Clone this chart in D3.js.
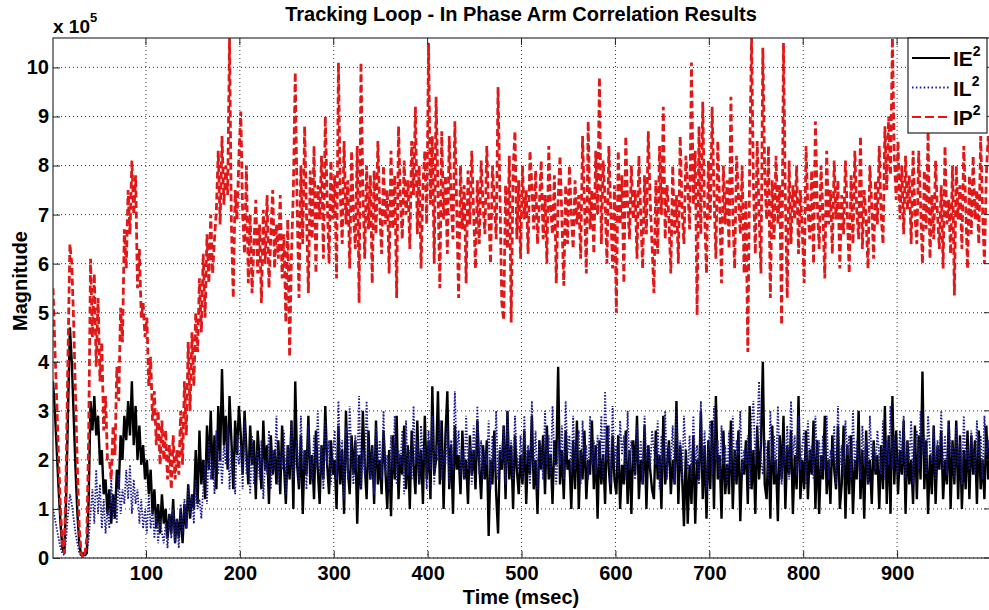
<!DOCTYPE html>
<html>
<head>
<meta charset="utf-8">
<script src="https://cdn.jsdelivr.net/npm/d3@7"></script>
<style>
  body { margin: 0; background: #fff; }
  svg { display: block; }
  text { font-family: "Liberation Sans", Arial, Helvetica, sans-serif; font-weight: bold; fill: #000; }
</style>
</head>
<body>
<div id="chart"></div>
<script>
// samples every 2 msec, starting at 1 msec (values are x 10^5)
var firstTime = 1;
var sampleStep = 2;

var ieSquared = [
  3.6, 3.0, 2.2, 1.4, 0.7, 0.2, 0.1, 1.2, 3.0, 4.7,
  4.0, 2.9, 1.8, 0.9, 0.3, 0.05, 0.1, 0.05, 0.1, 1.2,
  3.2, 2.6, 3.3, 2.5, 2.9, 1.9, 2.2, 1.3, 1.6, 0.9,
  1.4, 0.7, 1.3, 0.8, 1.8, 1.4, 2.5, 2.0, 2.9, 2.4,
  3.2, 2.5, 3.6, 2.3, 3.1, 2.0, 2.7, 1.9, 2.3, 1.6,
  2.0, 1.3, 1.8, 0.9, 1.4, 0.6, 1.1, 0.5, 1.3, 0.7,
  1.0, 0.4, 0.9, 0.5, 1.2, 0.3, 0.8, 0.4, 1.0, 0.3,
  1.1, 0.6, 1.5, 0.8, 1.3, 1.0, 2.2, 1.1, 2.6, 1.5,
  2.0, 1.2, 2.7, 1.8, 3.0, 1.6, 2.5, 1.4, 3.1, 2.0,
  3.85, 2.3, 2.9, 1.8, 3.3, 2.4, 1.4, 2.8, 2.1, 3.1,
  2.5, 1.7, 3.0, 2.2, 1.5, 2.7, 1.9, 2.4, 1.2, 2.6,
  2.0, 1.4, 2.8, 1.8, 2.3, 1.1, 2.5, 1.7, 2.2, 1.5,
  2.4, 1.3, 2.7, 1.9, 1.1, 2.3, 1.6, 2.8, 1.0, 3.6,
  1.9, 1.4, 2.5, 0.9, 2.2, 1.7, 2.9, 1.5, 2.1, 1.2,
  2.6, 1.8, 1.1, 2.3, 1.6, 3.1, 1.9, 1.3, 2.4, 1.7,
  2.0, 1.0, 2.7, 1.5, 2.2, 0.9, 3.0, 1.8, 1.3, 2.5,
  1.7, 2.4, 0.7, 2.1, 1.4, 3.0, 1.9, 1.2, 2.6, 1.6,
  2.3, 1.1, 2.8, 1.5, 2.0, 1.3, 2.6, 1.8, 1.0, 2.2,
  0.85, 2.5, 1.6, 2.9, 1.2, 2.1, 1.7, 2.7, 1.4, 2.3,
  1.0, 2.6, 1.9, 1.3, 2.8, 1.5, 2.2, 1.1, 2.9, 1.6,
  2.4, 1.2, 3.5, 1.7, 2.0, 3.4, 1.5, 2.8, 1.0, 2.5,
  3.4, 1.4, 2.3, 0.9, 2.7, 1.8, 2.1, 1.3, 2.6, 1.6,
  2.0, 1.1, 2.5, 1.7, 2.2, 1.4, 2.8, 1.9, 1.2, 2.3,
  1.6, 2.4, 0.45, 2.0, 1.5, 2.6, 1.3, 0.5, 2.2, 1.8,
  2.7, 1.2, 3.0, 1.6, 2.3, 1.0, 2.5, 1.8, 1.3, 2.1,
  1.5, 2.6, 1.1, 2.2, 1.7, 2.9, 1.4, 2.0, 0.9, 2.4,
  1.8, 2.5, 1.3, 2.7, 1.6, 2.1, 1.1, 2.4, 1.9, 3.9,
  1.5, 2.2, 1.2, 2.6, 1.8, 2.0, 1.0, 2.4, 1.4, 2.8,
  1.0, 2.2, 1.6, 2.6, 1.2, 2.0, 1.7, 2.8, 1.4, 2.3,
  0.8, 2.4, 1.5, 2.1, 1.1, 2.7, 1.8, 1.3, 2.5, 1.6,
  1.3, 2.5, 1.0, 1.9, 1.5, 2.6, 1.1, 2.2, 0.9, 2.4,
  1.7, 2.9, 1.2, 2.0, 1.5, 2.7, 1.0, 2.3, 1.8, 1.4,
  1.2, 2.6, 1.6, 2.1, 1.0, 2.9, 1.5, 1.9, 2.4, 1.3,
  2.0, 1.5, 3.2, 1.1, 2.3, 1.7, 0.65, 2.2, 0.7, 1.9,
  1.1, 2.5, 0.7, 2.0, 1.6, 3.0, 1.2, 2.3, 0.8, 2.4,
  1.4, 2.8, 1.0, 3.3, 1.6, 2.1, 0.8, 2.6, 1.3, 1.9,
  1.3, 2.8, 1.0, 2.2, 1.5, 2.6, 0.75, 2.0, 1.7, 2.4,
  1.1, 3.1, 1.4, 2.2, 0.9, 2.7, 1.6, 2.3, 4.0, 1.5,
  1.2, 2.4, 0.8, 2.7, 1.5, 2.0, 0.75, 2.5, 1.6, 2.9,
  1.0, 2.3, 1.7, 2.6, 0.9, 2.1, 1.4, 3.3, 1.2, 2.0,
  1.4, 2.6, 1.2, 2.2, 1.7, 2.8, 1.0, 2.4, 0.9, 2.1,
  1.6, 2.9, 1.3, 2.0, 1.1, 2.5, 1.8, 1.4, 2.7, 1.0,
  1.5, 2.7, 0.8, 2.3, 1.3, 2.5, 0.9, 2.0, 1.6, 3.0,
  1.2, 2.2, 0.8, 2.6, 1.5, 2.0, 1.1, 2.4, 1.7, 2.1,
  1.0, 2.3, 1.4, 3.1, 1.1, 2.5, 0.9, 3.3, 1.5, 2.6,
  1.3, 2.2, 1.7, 2.8, 0.9, 2.4, 1.5, 2.0, 1.1, 2.7,
  1.2, 2.5, 1.6, 3.8, 1.4, 2.4, 0.9, 2.1, 1.3, 2.7,
  1.1, 2.3, 1.8, 2.6, 1.2, 2.0, 1.5, 2.8, 1.0, 2.4,
  1.5, 2.8, 1.2, 2.5, 1.0, 2.2, 1.4, 2.6, 1.2, 2.5,
  1.7, 2.4, 1.1, 2.6, 1.4, 2.0, 1.2, 2.7, 1.6, 2.5
];

var ilSquared = [
  1.0, 0.8, 0.6, 0.4, 0.2, 0.1, 0.05, 0.4, 0.9, 1.3,
  1.1, 0.8, 0.5, 0.3, 0.1, 0.05, 0.1, 0.05, 0.1, 0.4,
  0.9, 1.4, 0.7, 1.8, 0.9, 1.5, 0.6, 1.2, 0.5, 1.0,
  0.6, 1.6, 0.8, 1.3, 0.7, 1.7, 0.9, 1.4, 1.1, 1.8,
  1.2, 1.9, 0.9, 1.6, 1.1, 1.4, 0.7, 1.2, 0.6, 1.0,
  0.5, 1.3, 0.6, 1.0, 0.4, 0.9, 0.3, 0.8, 0.5, 0.3,
  0.7, 0.2, 0.9, 0.4, 1.0, 0.3, 0.8, 0.2, 1.1, 0.5,
  1.2, 0.6, 1.5, 0.9, 1.3, 0.7, 1.6, 1.0, 1.2, 0.8,
  1.4, 2.0, 1.1, 2.4, 1.6, 2.0, 1.3, 2.6, 1.7, 2.2,
  1.5, 2.3, 1.9, 2.7, 1.4, 2.2, 1.8, 1.3, 2.5, 1.9,
  2.3, 1.4, 2.8, 1.7, 2.1, 1.3, 2.5, 1.5, 1.9, 2.2,
  1.6, 2.4, 1.2, 2.0, 1.7, 2.6, 1.4, 2.2, 1.8, 2.9,
  1.5, 2.1, 1.8, 2.6, 1.3, 2.3, 1.9, 2.8, 1.6, 2.0,
  2.4, 1.5, 2.9, 1.8, 2.2, 1.4, 2.7, 2.0, 1.6, 2.5,
  1.8, 3.0, 1.7, 2.3, 1.4, 2.8, 1.9, 2.4, 1.5, 2.1,
  2.6, 1.6, 3.2, 1.9, 2.4, 1.2, 2.7, 1.6, 3.1, 2.0,
  1.5, 2.5, 1.8, 3.3, 1.4, 2.2, 1.7, 3.2, 2.0, 1.6,
  2.3, 1.3, 2.7, 1.9, 2.4, 1.6, 3.0, 1.7, 2.1, 1.4,
  2.5, 1.8, 2.9, 1.5, 2.2, 1.9, 2.6, 1.3, 2.8, 1.7,
  2.2, 1.6, 3.1, 1.9, 2.4, 1.5, 2.7, 2.0, 2.3, 1.4,
  2.6, 1.8, 2.9, 1.5, 2.3, 2.0, 2.8, 1.6, 2.2, 1.9,
  2.7, 1.5, 2.4, 1.8, 3.4, 2.1, 2.6, 1.7, 2.2, 1.6,
  2.9, 1.8, 2.3, 1.5, 2.7, 2.0, 3.1, 1.7, 2.4, 1.6,
  2.2, 1.9, 2.8, 1.4, 2.5, 1.8, 3.0, 1.6, 2.3, 2.0,
  2.7, 1.5, 3.0, 1.9, 2.4, 1.6, 2.9, 2.1, 1.8, 2.5,
  1.6, 2.9, 1.9, 2.3, 1.5, 3.2, 1.8, 2.6, 1.4, 2.4,
  2.2, 1.6, 3.0, 1.9, 2.5, 1.7, 3.1, 2.0, 1.5, 2.4,
  1.9, 2.7, 1.6, 3.2, 2.1, 2.5, 1.7, 2.9, 1.8, 2.3,
  2.6, 1.5, 2.8, 2.0, 2.3, 1.6, 2.9, 1.9, 2.4, 1.7,
  2.5, 1.8, 2.9, 1.6, 3.4, 2.0, 2.7, 1.5, 3.1, 1.9,
  2.3, 1.7, 2.8, 2.1, 2.5, 1.6, 3.0, 1.8, 2.4, 2.0,
  1.6, 2.7, 1.9, 2.4, 1.5, 2.9, 2.0, 2.3, 1.8, 2.6,
  2.2, 1.9, 2.8, 1.4, 2.5, 1.8, 3.0, 1.6, 2.3, 2.0,
  2.7, 1.5, 3.0, 1.9, 2.4, 1.6, 2.9, 2.1, 1.8, 2.5,
  1.6, 2.9, 1.9, 2.3, 1.5, 3.2, 1.8, 2.6, 1.4, 2.2,
  2.8, 1.7, 3.1, 2.0, 2.4, 1.6, 2.7, 1.9, 2.3, 1.5,
  2.6, 1.8, 2.9, 1.6, 2.4, 2.1, 3.0, 1.7, 2.2, 1.9,
  2.5, 1.4, 2.8, 3.2, 1.9, 2.6, 3.6, 2.0, 1.7, 2.4,
  2.2, 1.6, 3.0, 1.9, 2.5, 1.7, 3.1, 2.0, 1.5, 2.4,
  1.9, 2.7, 1.6, 3.2, 2.1, 2.5, 1.7, 2.9, 1.8, 2.3,
  2.6, 1.5, 2.8, 2.0, 2.3, 1.6, 2.9, 1.9, 2.4, 1.7,
  2.5, 1.8, 2.9, 1.6, 2.2, 2.0, 2.7, 1.5, 3.1, 1.9,
  2.3, 1.7, 2.8, 2.1, 2.5, 1.6, 3.0, 1.8, 2.4, 2.0,
  1.6, 2.7, 1.9, 2.4, 1.5, 2.9, 2.0, 2.3, 1.8, 2.6,
  2.1, 1.7, 2.8, 1.6, 2.4, 1.9, 3.1, 1.8, 2.5, 2.0,
  1.7, 2.6, 1.9, 2.9, 1.6, 2.4, 2.0, 2.8, 1.5, 2.3,
  2.6, 1.8, 3.0, 2.1, 2.5, 1.7, 2.9, 2.2, 1.9, 2.7,
  1.6, 2.4, 2.0, 3.0, 1.8, 2.5, 1.7, 2.8, 2.1, 2.3,
  1.6, 2.7, 1.9, 2.4, 1.5, 2.9, 2.0, 2.3, 1.8, 2.6,
  2.2, 1.7, 2.8, 2.0, 2.5, 1.6, 2.9, 2.1, 2.4, 1.9
];

var ipSquared = [
  5.5, 4.3, 3.2, 2.0, 1.0, 0.3, 0.1, 1.8, 4.2, 6.4,
  6.0, 4.8, 3.3, 1.8, 0.6, 0.1, 0.0, 0.1, 0.4, 2.5,
  6.1, 4.5, 5.8, 3.9, 5.3, 3.6, 4.4, 2.6, 3.3, 2.0,
  2.0, 1.6, 2.7, 2.1, 3.9, 3.2, 5.1, 4.4, 6.7, 5.9,
  7.5, 6.6, 8.1, 7.0, 7.8, 5.5, 6.3, 4.9, 5.2, 4.5,
  4.9, 3.5, 4.1, 2.8, 3.4, 2.3, 3.0, 1.9, 2.8, 2.0,
  2.6, 1.6, 2.3, 1.4, 2.5, 1.6, 2.2, 1.7, 3.0, 1.9,
  3.6, 2.5, 4.4, 3.0, 4.6, 3.5, 5.0, 4.2, 5.7, 4.6,
  6.2, 4.9, 6.6, 5.6, 7.0, 5.8, 6.5, 7.1, 8.3, 6.8,
  8.6, 7.2, 8.0, 7.4, 10.6, 6.8, 5.3, 7.5, 6.9, 8.2,
  9.1, 7.0, 6.2, 8.0, 5.6, 7.0, 5.4, 6.4, 7.3, 5.8,
  6.8, 5.2, 7.1, 6.0, 7.4, 5.5, 6.6, 7.5, 5.9, 6.8,
  6.1, 7.4, 5.7, 6.6, 4.8, 6.9, 4.1, 6.2, 7.5, 9.9,
  7.2, 5.3, 8.0, 6.4, 8.8, 7.0, 5.4, 7.9, 6.5, 8.4,
  5.8, 7.6, 6.9, 8.2, 6.1, 9.0, 7.3, 6.0, 8.1, 6.9,
  7.8, 5.7, 10.1, 7.4, 6.4, 8.5, 6.8, 7.7, 5.9, 8.3,
  7.0, 6.3, 8.4, 5.2, 10.1, 7.5, 6.1, 8.0, 6.7, 7.8,
  5.6, 7.9, 6.6, 8.5, 7.1, 6.2, 8.0, 6.8, 7.5, 5.8,
  8.3, 6.7, 7.8, 5.3, 8.8, 7.3, 6.5, 8.1, 7.0, 7.7,
  6.3, 8.5, 7.4, 9.2, 6.6, 8.0, 5.9, 7.6, 8.3, 6.8,
  10.5, 7.2, 8.6, 6.0, 9.4, 7.5, 5.5, 8.7, 6.9, 7.8,
  6.2, 8.6, 7.3, 6.5, 8.9, 7.1, 5.3, 8.0, 6.7, 7.6,
  5.6, 7.9, 6.8, 8.3, 7.0, 5.9, 7.7, 6.4, 8.1, 7.2,
  6.6, 8.4, 7.1, 6.0, 8.0, 7.3, 6.5, 9.6, 7.4, 5.2,
  4.85, 7.6, 6.3, 8.2, 4.8, 7.9, 8.7, 6.5, 7.7, 6.1,
  8.0, 6.9, 7.5, 6.2, 8.3, 7.6, 6.7, 7.9, 6.4, 7.2,
  8.1, 6.5, 7.4, 6.0, 8.4, 7.1, 6.6, 7.8, 5.6, 7.3,
  8.2, 6.9, 5.55, 7.6, 6.4, 8.0, 7.0, 6.3, 7.7, 6.8,
  7.4, 6.1, 8.6, 7.2, 5.8, 8.9, 6.7, 7.5, 6.2, 8.3,
  7.0, 9.8, 6.4, 8.1, 7.3, 6.0, 8.4, 7.1, 5.9, 7.6,
  5.0, 8.3, 6.8, 7.8, 5.6, 8.6, 7.2, 6.5, 8.0, 6.9,
  7.5, 6.1, 8.2, 7.0, 5.9, 7.8, 6.6, 8.7, 7.3, 6.4,
  5.4, 7.7, 6.2, 8.4, 7.0, 9.2, 6.5, 7.6, 6.9, 5.8,
  8.0, 6.6, 7.4, 6.0, 8.6, 7.1, 6.4, 8.2, 7.6, 6.7,
  10.1, 7.2, 8.3, 4.95, 8.8, 6.6, 9.3, 7.0, 5.8, 8.1,
  6.9, 9.2, 7.4, 6.1, 8.5, 7.2, 5.6, 8.0, 6.8, 7.7,
  6.3, 9.4, 7.0, 5.9, 8.2, 7.4, 6.6, 8.0, 5.8, 7.3,
  4.2, 8.1, 10.6, 7.6, 6.2, 8.5, 7.0, 5.8, 10.4, 7.8,
  6.9, 8.4, 5.3, 7.7, 6.5, 8.2, 6.8, 7.6, 4.75, 10.5,
  7.3, 5.3, 8.1, 6.4, 7.6, 6.9, 8.0, 6.2, 7.5, 6.7,
  5.6, 8.4, 7.1, 6.5, 7.9, 6.0, 8.9, 7.2, 6.3, 8.0,
  7.0, 5.7, 8.3, 6.8, 7.5, 6.2, 8.1, 6.9, 7.7, 5.9,
  7.4, 6.6, 8.1, 7.0, 5.8, 7.8, 6.4, 8.3, 7.1, 6.5,
  8.6, 6.3, 7.5, 6.9, 5.9, 8.0, 7.2, 6.1, 7.7, 6.8,
  8.4, 7.0, 6.4, 8.8, 7.5, 9.0, 7.8, 10.6, 8.2, 7.3,
  8.5, 6.9, 8.0, 6.6, 8.2, 7.1, 7.8, 6.4, 8.3, 7.0,
  6.4, 8.3, 7.2, 6.0, 7.9, 6.7, 8.7, 6.1, 7.4, 6.5,
  8.1, 7.0, 6.3, 7.6, 5.9, 8.4, 6.8, 7.3, 6.2, 8.0,
  5.35, 8.0, 6.9, 7.6, 6.3, 8.4, 7.2, 5.9, 7.8, 6.6,
  8.2, 6.9, 7.5, 6.4, 8.6, 7.1, 6.0, 7.8, 8.6, 8.2
];

var xTicks = [100, 200, 300, 400, 500, 600, 700, 800, 900];
var yTicks = [0, 1, 2, 3, 4, 5, 6, 7, 8, 9, 10];

var series = [
  { name: "IE", values: ieSquared, color: "#000000", width: 2.4, dash: null, legendDash: null },
  { name: "IL", values: ilSquared, color: "#1a1a8c", width: 1.8, dash: "1.5,1.6", legendDash: "1.5,2.4" },
  { name: "IP", values: ipSquared, color: "#e01818", width: 2.8, dash: "7,3.5", legendDash: "9,4" }
];

var width = 989, height = 610;
var plot = { left: 53, right: 991, top: 38, bottom: 558 };

var svg = d3.select("#chart").append("svg")
    .attr("width", width)
    .attr("height", height);

var x = d3.scaleLinear().domain([1, 1000]).range([plot.left, plot.right]);
var y = d3.scaleLinear().domain([0, 10.6]).range([plot.bottom, plot.top]);

// dotted grid, matlab style
var grid = svg.append("g").attr("class", "grid");
grid.selectAll("line.vgrid")
    .data(xTicks)
    .enter().append("line")
    .attr("class", "vgrid")
    .attr("x1", d => x(d)).attr("x2", d => x(d))
    .attr("y1", plot.top).attr("y2", plot.bottom)
    .attr("stroke", "#333").attr("stroke-width", 1)
    .attr("stroke-dasharray", "1,3");
grid.selectAll("line.hgrid")
    .data(yTicks)
    .enter().append("line")
    .attr("class", "hgrid")
    .attr("x1", plot.left).attr("x2", plot.right)
    .attr("y1", d => y(d)).attr("y2", d => y(d))
    .attr("stroke", "#333").attr("stroke-width", 1)
    .attr("stroke-dasharray", "1,3");

svg.append("clipPath").attr("id", "plotClip")
  .append("rect")
    .attr("x", plot.left).attr("y", plot.top)
    .attr("width", plot.right - plot.left)
    .attr("height", plot.bottom - plot.top);

var line = d3.line()
    .x((d, i) => x(firstTime + i * sampleStep))
    .y(d => y(d));

svg.append("g")
    .attr("clip-path", "url(#plotClip)")
  .selectAll("path")
    .data(series)
    .enter().append("path")
    .attr("d", d => line(d.values))
    .attr("fill", "none")
    .attr("stroke", d => d.color)
    .attr("stroke-width", d => d.width)
    .attr("stroke-linejoin", "bevel")
    .attr("stroke-dasharray", d => d.dash);

// axes with inward ticks
var xAxis = d3.axisBottom(x).tickValues(xTicks).tickSizeInner(-7).tickSizeOuter(0).tickPadding(8);
var yAxis = d3.axisLeft(y).tickValues(yTicks).tickSizeInner(-7).tickSizeOuter(0).tickPadding(4);

var gx = svg.append("g")
    .attr("transform", "translate(0," + plot.bottom + ")")
    .call(xAxis);
var gy = svg.append("g")
    .attr("transform", "translate(" + plot.left + ",0)")
    .call(yAxis);
[gx, gy].forEach(function (g) {
  g.select(".domain").remove();
  g.selectAll("line").attr("stroke", "#222");
  g.selectAll("text")
      .style("font-size", "20px")
      .style("font-family", "Liberation Sans, Arial, sans-serif")
      .style("font-weight", "bold")
      .attr("fill", "#000");
});

// top and right ticks
svg.append("g").selectAll("line")
    .data(xTicks).enter().append("line")
    .attr("x1", d => x(d)).attr("x2", d => x(d))
    .attr("y1", plot.top).attr("y2", plot.top + 7)
    .attr("stroke", "#222");
svg.append("g").selectAll("line")
    .data(yTicks).enter().append("line")
    .attr("x1", plot.right).attr("x2", plot.right - 7)
    .attr("y1", d => y(d)).attr("y2", d => y(d))
    .attr("stroke", "#222");

svg.append("rect")
    .attr("x", plot.left).attr("y", plot.top)
    .attr("width", plot.right - plot.left)
    .attr("height", plot.bottom - plot.top)
    .attr("fill", "none")
    .attr("stroke", "#333")
    .attr("stroke-width", 1.2);

// titles
svg.append("text")
    .attr("x", 521).attr("y", 21)
    .attr("text-anchor", "middle")
    .style("font-size", "20px")
    .text("Tracking Loop - In Phase Arm Correlation Results");

svg.append("text")
    .attr("x", 521).attr("y", 604)
    .attr("text-anchor", "middle")
    .style("font-size", "20px")
    .text("Time (msec)");

svg.append("text")
    .attr("transform", "translate(27,281) rotate(-90)")
    .attr("text-anchor", "middle")
    .style("font-size", "20px")
    .text("Magnitude");

var mult = svg.append("text")
    .attr("x", 53).attr("y", 33)
    .style("font-size", "19px");
mult.append("tspan").text("x 10");
mult.append("tspan").attr("dy", -11).style("font-size", "13px").text("5");

// legend
var legend = svg.append("g").attr("transform", "translate(908,38)");
legend.append("rect")
    .attr("width", 79).attr("height", 95)
    .attr("fill", "#fff")
    .attr("stroke", "#222")
    .attr("stroke-width", 1.2);

var entry = legend.selectAll("g.entry")
    .data(series)
    .enter().append("g")
    .attr("class", "entry")
    .attr("transform", (d, i) => "translate(0," + (20 + i * 29.5) + ")");
entry.append("line")
    .attr("x1", 4).attr("x2", 42)
    .attr("stroke", d => d.color)
    .attr("stroke-width", d => Math.min(d.width, 2.2))
    .attr("stroke-dasharray", d => d.legendDash);
var lt = entry.append("text")
    .attr("x", 45).attr("y", 8)
    .style("font-size", "21px");
lt.append("tspan").text(d => d.name);
lt.append("tspan").attr("dy", -10).style("font-size", "14px").text("2");
</script>
</body>
</html>
